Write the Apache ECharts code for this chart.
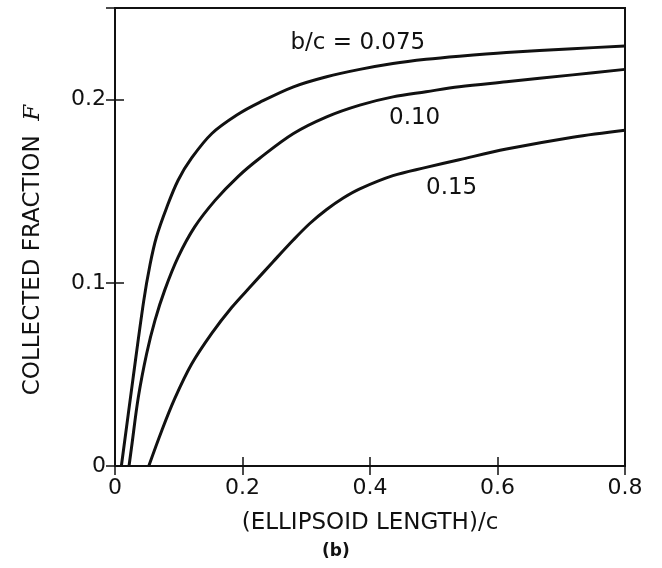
<!DOCTYPE html>
<html>
<head>
<meta charset="utf-8">
<script src="https://cdn.jsdelivr.net/npm/echarts@6/dist/echarts.min.js"></script>
<style>
html,body{margin:0;padding:0;background:#fff;}
#chart{width:662px;height:568px;}
</style>
</head>
<body>
<div id="chart"></div>
<script>
// ---- data ----
const seriesNames = ['b/c = 0.075', '0.10', '0.15'];
const x075 = [0.010, 0.028, 0.045, 0.055, 0.065, 0.081, 0.099, 0.120, 0.152, 0.193, 0.227, 0.280, 0.332, 0.384, 0.436, 0.488, 0.540, 0.614, 0.718, 0.800];
const f075 = [0, 0.047, 0.090, 0.110, 0.125, 0.141, 0.156, 0.168, 0.1815, 0.192, 0.1985, 0.207, 0.2125, 0.2165, 0.2197, 0.222, 0.2237, 0.2257, 0.2278, 0.2292];
const x010 = [0.022, 0.026, 0.0366, 0.0496, 0.0627, 0.078, 0.099, 0.125, 0.157, 0.193, 0.227, 0.280, 0.332, 0.384, 0.436, 0.488, 0.540, 0.614, 0.718, 0.800];
const f010 = [0, 0.0103, 0.0376, 0.0613, 0.0795, 0.096, 0.114, 0.1305, 0.145, 0.158, 0.168, 0.1815, 0.1906, 0.197, 0.2015, 0.2043, 0.207, 0.2097, 0.2135, 0.2165];
const x015 = [0.053, 0.073, 0.094, 0.120, 0.152, 0.183, 0.214, 0.248, 0.280, 0.306, 0.332, 0.358, 0.384, 0.436, 0.488, 0.540, 0.614, 0.718, 0.800];
const f015 = [0, 0.019, 0.037, 0.0555, 0.0725, 0.0865, 0.0985, 0.1115, 0.1235, 0.1325, 0.140, 0.1463, 0.1513, 0.1585, 0.163, 0.1672, 0.173, 0.1795, 0.1833];
// curve-label anchor positions in data units
const labelX = [0.381, 0.470, 0.528];
const labelY = [0.231, 0.190, 0.152];
const xTicks = ['0', '0.2', '0.4', '0.6', '0.8'];
const yTicks = ['0', '0.1', '0.2'];

const FONT = 'DejaVu Sans';
const INK = '#111';
const xs = [x075, x010, x015];
const fs = [f075, f010, f015];

const chart = echarts.init(document.getElementById('chart'), null, {renderer: 'canvas'});

function pairs(a, b) { return a.map((v, i) => [v, b[i]]); }

const series = xs.map((x, k) => ({
  type: 'line',
  name: seriesNames[k],
  data: pairs(x, fs[k]),
  smooth: 0.35,
  symbol: 'none',
  lineStyle: {color: INK, width: 3},
  markPoint: {
    symbol: 'circle', symbolSize: 0,
    label: {show: true, formatter: seriesNames[k], color: INK, fontFamily: FONT, fontSize: 23, position: 'inside'},
    data: [{coord: [labelX[k], labelY[k]]}]
  },
  z: 3
}));

const option = {
  backgroundColor: '#fff',
  animation: false,
  grid: {left: 115, right: 37, top: 8, bottom: 102, show: true, borderColor: INK, borderWidth: 2, backgroundColor: 'transparent'},
  xAxis: [{
    type: 'value', min: 0, max: 0.8, interval: 0.2,
    name: '(ELLIPSOID LENGTH)/c', nameLocation: 'middle', nameGap: 46,
    nameTextStyle: {fontFamily: FONT, fontSize: 23, color: INK},
    axisLine: {show: true, lineStyle: {color: INK, width: 2}},
    axisTick: {show: true, inside: true, length: 9, lineStyle: {color: INK, width: 1.5}},
    axisLabel: {fontFamily: FONT, fontSize: 22, color: INK, margin: 11,
      formatter: v => xTicks[Math.round(v / 0.2)]},
    splitLine: {show: false}
  }, {
    type: 'value', min: 0, max: 0.8, interval: 0.2, position: 'top',
    axisLine: {show: true, lineStyle: {color: INK, width: 2}},
    axisTick: {show: true, inside: true, length: 9, lineStyle: {color: INK, width: 1.5}},
    axisLabel: {show: false}, splitLine: {show: false}
  }],
  yAxis: [{
    type: 'value', min: 0, max: 0.25, interval: 0.1,
    name: 'COLLECTED FRACTION  {f|F}', nameLocation: 'middle', nameGap: 70, nameRotate: 90,
    nameTextStyle: {fontFamily: FONT, fontSize: 23, color: INK, padding: [0, 26, 0, 0],
      rich: {f: {fontFamily: 'DejaVu Serif', fontStyle: 'italic', fontSize: 23, color: INK}}},
    axisLine: {show: true, lineStyle: {color: INK, width: 2}},
    axisTick: {show: true, inside: true, length: 9, lineStyle: {color: INK, width: 1.5}},
    axisLabel: {fontFamily: FONT, fontSize: 22, color: INK, margin: 9, showMaxLabel: false,
      formatter: v => { const i = Math.round(v / 0.1); return i < yTicks.length && Math.abs(v - i * 0.1) < 1e-6 ? yTicks[i] : ''; }},
    splitLine: {show: false}
  }, {
    type: 'value', min: 0, max: 0.25, interval: 0.1, position: 'right',
    axisLine: {show: true, lineStyle: {color: INK, width: 2}},
    axisTick: {show: true, inside: true, length: 9, lineStyle: {color: INK, width: 1.5}},
    axisLabel: {show: false}, splitLine: {show: false}
  }],
  graphic: [{
    type: 'text', left: 322, top: 543,
    style: {text: '(b)', fontFamily: FONT, fontSize: 17, fontWeight: 'bold', fill: INK}
  }],
  series: series
};
chart.setOption(option);
</script>
</body>
</html>
